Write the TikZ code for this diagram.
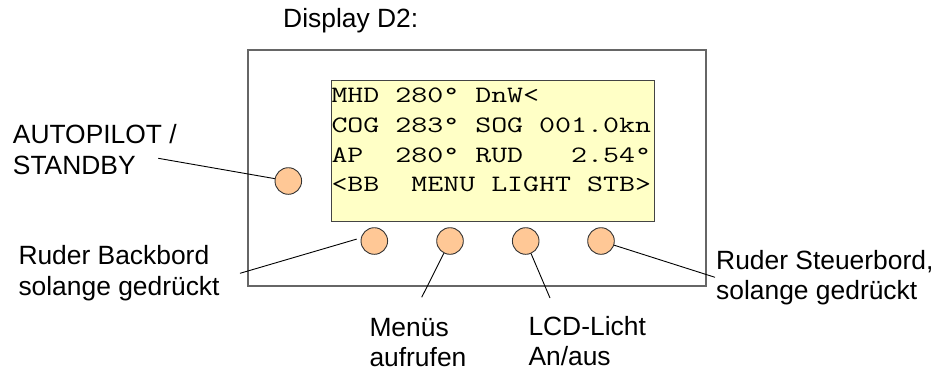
\documentclass[tikz,border=0pt]{standalone}
\usepackage{fontspec}
\usepackage{graphicx}
\setmainfont{Liberation Sans}
\newfontfamily\lcdfont{Latin Modern Mono}
\definecolor{lcdfill}{HTML}{FFFFC6}
\definecolor{btnfill}{HTML}{FFC896}
\definecolor{btnline}{HTML}{333333}
\definecolor{caseline}{HTML}{666666}
\definecolor{lcdline}{HTML}{444444}
\tikzset{
  lbl/.style={anchor=base west, inner sep=0pt, font=\fontsize{26.4}{30}\selectfont},
  lcdtext/.style={anchor=base west, inner sep=0pt, font=\lcdfont\fontsize{23.5}{29}\selectfont},
  btn/.style={circle, draw=btnline, fill=btnfill, line width=0.9pt, minimum size=26.6pt, inner sep=0pt},
  conn/.style={draw=black, line width=0.9pt},
}
\newcommand{\lcdline}[1]{\scalebox{1.32}[1]{#1}}
\begin{document}
\begin{tikzpicture}[x=1pt, y=-1pt]
\useasboundingbox (0,0) rectangle (936,373);
% case and display
\draw[draw=caseline, line width=1.2pt] (248,50) rectangle (706,286);
\draw[draw=lcdline, fill=lcdfill, line width=1pt] (331.3,80.7) rectangle (654.3,221);
% display text
\node[lcdtext] (l1) at (331.3,102.8) {\lcdline{MHD~280°~DnW<}};
\node[lcdtext] (l2) at (331.3,132.5) {\lcdline{COG~283°~SOG~001.0kn}};
\node[lcdtext] (l3) at (331.3,162.2) {\lcdline{AP~~280°~RUD~~~2.54°}};
\node[lcdtext] (l4) at (331.3,191.9) {\lcdline{<BB~~MENU~LIGHT~STB>}};
% buttons
\node[btn] (ap) at (288.3,181) {};
\node[btn] (bb) at (374.3,241) {};
\node[btn] (mn) at (450,241) {};
\node[btn] (lt) at (525.7,241) {};
\node[btn] (sb) at (601,241) {};
% labels
\node[lbl] (title) at (283,27.3) {Display D2:};
\node[lbl] (apA) at (12.7,143.3) {AUTOPILOT /};
\node[lbl] (apB) at (12.7,174) {STANDBY};
\node[lbl] (bbA) at (18.3,264) {Ruder Backbord};
\node[lbl] (bbB) at (18.3,295) {solange gedrückt};
\node[lbl] (mnA) at (369.3,336) {Menüs};
\node[lbl] (mnB) at (369.3,366.7) {aufrufen};
\node[lbl] (ltA) at (528.3,335) {LCD-Licht};
\node[lbl] (ltB) at (528.3,365) {An/aus};
\node[lbl] (sbA) at (716,269) {Ruder Steuerbord,};
\node[lbl] (sbB) at (716,299.3) {solange gedrückt};
% connector ends
\coordinate (apC) at (158.3,158.3);
\coordinate (bbC) at (240,273.3);
\coordinate (mnC) at (421.7,297.3);
\coordinate (ltC) at (550,298);
\coordinate (sbC) at (715,277.3);
% connectors
\draw[conn] (apC) -- (ap);
\draw[conn] (bbC) -- ([xshift=-4pt]bb.172);
\draw[conn] (mnC) -- (mn);
\draw[conn] (ltC) -- (lt);
\draw[conn] (sbC) -- (sb);
\end{tikzpicture}
\end{document}
